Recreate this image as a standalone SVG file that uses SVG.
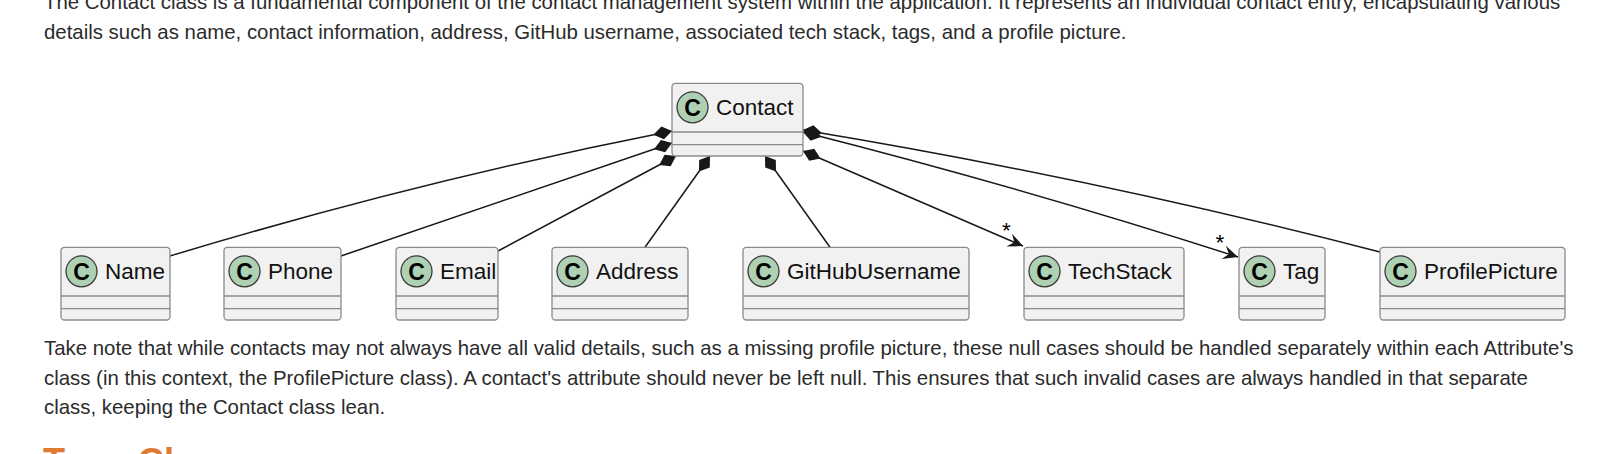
<svg xmlns="http://www.w3.org/2000/svg" width="1602" height="454" viewBox="0 0 1602 454">
<style>
.para{font-family:"Liberation Sans",Arial,sans-serif;font-size:20.4px;fill:#2b2b2b}
.box{fill:#F1F1F1;stroke:#8a8a8a;stroke-width:1.3}
.sep{stroke:#8a8a8a;stroke-width:1.3}
.spot{fill:#ADD1B2;stroke:#3a3a3a;stroke-width:1.3}
.spotc{font-family:"Liberation Sans",Arial,sans-serif;font-weight:bold;font-size:23px;fill:#000;text-anchor:middle}
.lbl{font-family:"Liberation Sans",Arial,sans-serif;font-size:22.5px;fill:#111}
.edge{fill:none;stroke:#181818;stroke-width:1.5}
.mult{font-family:"Liberation Sans",Arial,sans-serif;font-size:22.5px;fill:#000;text-anchor:middle}
.head{font-family:"Liberation Sans",Arial,sans-serif;font-weight:bold;font-size:36px;fill:#E07A33}
</style>
<defs>
<marker id="diamond" markerUnits="userSpaceOnUse" orient="auto" refX="0" refY="0" markerWidth="20" markerHeight="14" overflow="visible">
<path d="M0,0 L9.5,-6.5 L19,0 L9.5,6.5 Z" fill="#181818"/>
</marker>
<marker id="arrow" markerUnits="userSpaceOnUse" orient="auto" refX="0" refY="0" markerWidth="16" markerHeight="14" overflow="visible">
<path d="M0,0 L-15,-7 L-9.5,0 L-15,7 Z" fill="#181818"/>
</marker>
</defs>
<rect x="0" y="0" width="1602" height="454" fill="#ffffff"/>
<text class="para" x="44" y="9">The Contact class is a fundamental component of the contact management system within the application. It represents an individual contact entry, encapsulating various</text>
<text class="para" x="44" y="38.5">details such as name, contact information, address, GitHub username, associated tech stack, tags, and a profile picture.</text>
<g id="connectors">
<path class="edge" marker-start="url(#diamond)" d="M672,131 Q418,181 170,256"/>
<path class="edge" marker-start="url(#diamond)" d="M672,143 L341,256"/>
<path class="edge" marker-start="url(#diamond)" d="M676,156 L498,251"/>
<path class="edge" marker-start="url(#diamond)" d="M710,156 L645,247.3"/>
<path class="edge" marker-start="url(#diamond)" d="M765,156 L830,247.3"/>
<path class="edge" marker-start="url(#diamond)" marker-end="url(#arrow)" d="M803,151 L1023,246"/>
<path class="edge" marker-start="url(#diamond)" marker-end="url(#arrow)" d="M803,132 Q1024,188 1238,257"/>
<path class="edge" marker-start="url(#diamond)" d="M803,130 Q1094,178 1380,252"/>
<text class="mult" x="1006.5" y="238">*</text>
<text class="mult" x="1220" y="250">*</text>
</g>
<g id="Contact">
<rect class="box" x="672" y="83.3" width="131" height="72.7" rx="3.5"/>
<line class="sep" x1="672" y1="132" x2="803" y2="132"/>
<line class="sep" x1="672" y1="144.6" x2="803" y2="144.6"/>
<circle class="spot" cx="692.5" cy="107.3" r="15.5"/>
<text class="spotc" x="692.5" y="115.5">C</text>
<text class="lbl" x="716" y="114.8">Contact</text>
</g>
<g id="Name">
<rect class="box" x="61" y="247.3" width="109" height="72.7" rx="3.5"/>
<line class="sep" x1="61" y1="296" x2="170" y2="296"/>
<line class="sep" x1="61" y1="308.6" x2="170" y2="308.6"/>
<circle class="spot" cx="81.5" cy="271.3" r="15.5"/>
<text class="spotc" x="81.5" y="279.5">C</text>
<text class="lbl" x="105" y="278.8">Name</text>
</g>
<g id="Phone">
<rect class="box" x="224" y="247.3" width="117" height="72.7" rx="3.5"/>
<line class="sep" x1="224" y1="296" x2="341" y2="296"/>
<line class="sep" x1="224" y1="308.6" x2="341" y2="308.6"/>
<circle class="spot" cx="244.5" cy="271.3" r="15.5"/>
<text class="spotc" x="244.5" y="279.5">C</text>
<text class="lbl" x="268" y="278.8">Phone</text>
</g>
<g id="Email">
<rect class="box" x="396" y="247.3" width="102" height="72.7" rx="3.5"/>
<line class="sep" x1="396" y1="296" x2="498" y2="296"/>
<line class="sep" x1="396" y1="308.6" x2="498" y2="308.6"/>
<circle class="spot" cx="416.5" cy="271.3" r="15.5"/>
<text class="spotc" x="416.5" y="279.5">C</text>
<text class="lbl" x="440" y="278.8">Email</text>
</g>
<g id="Address">
<rect class="box" x="552" y="247.3" width="136" height="72.7" rx="3.5"/>
<line class="sep" x1="552" y1="296" x2="688" y2="296"/>
<line class="sep" x1="552" y1="308.6" x2="688" y2="308.6"/>
<circle class="spot" cx="572.5" cy="271.3" r="15.5"/>
<text class="spotc" x="572.5" y="279.5">C</text>
<text class="lbl" x="596" y="278.8">Address</text>
</g>
<g id="GitHubUsername">
<rect class="box" x="743" y="247.3" width="226" height="72.7" rx="3.5"/>
<line class="sep" x1="743" y1="296" x2="969" y2="296"/>
<line class="sep" x1="743" y1="308.6" x2="969" y2="308.6"/>
<circle class="spot" cx="763.5" cy="271.3" r="15.5"/>
<text class="spotc" x="763.5" y="279.5">C</text>
<text class="lbl" x="787" y="278.8">GitHubUsername</text>
</g>
<g id="TechStack">
<rect class="box" x="1024" y="247.3" width="160" height="72.7" rx="3.5"/>
<line class="sep" x1="1024" y1="296" x2="1184" y2="296"/>
<line class="sep" x1="1024" y1="308.6" x2="1184" y2="308.6"/>
<circle class="spot" cx="1044.5" cy="271.3" r="15.5"/>
<text class="spotc" x="1044.5" y="279.5">C</text>
<text class="lbl" x="1068" y="278.8">TechStack</text>
</g>
<g id="Tag">
<rect class="box" x="1239" y="247.3" width="86" height="72.7" rx="3.5"/>
<line class="sep" x1="1239" y1="296" x2="1325" y2="296"/>
<line class="sep" x1="1239" y1="308.6" x2="1325" y2="308.6"/>
<circle class="spot" cx="1259.5" cy="271.3" r="15.5"/>
<text class="spotc" x="1259.5" y="279.5">C</text>
<text class="lbl" x="1283" y="278.8">Tag</text>
</g>
<g id="ProfilePicture">
<rect class="box" x="1380" y="247.3" width="185" height="72.7" rx="3.5"/>
<line class="sep" x1="1380" y1="296" x2="1565" y2="296"/>
<line class="sep" x1="1380" y1="308.6" x2="1565" y2="308.6"/>
<circle class="spot" cx="1400.5" cy="271.3" r="15.5"/>
<text class="spotc" x="1400.5" y="279.5">C</text>
<text class="lbl" x="1424" y="278.8">ProfilePicture</text>
</g>
<text class="para" x="44" y="355">Take note that while contacts may not always have all valid details, such as a missing profile picture, these null cases should be handled separately within each Attribute's</text>
<text class="para" x="44" y="384.5">class (in this context, the ProfilePicture class). A contact's attribute should never be left null. This ensures that such invalid cases are always handled in that separate</text>
<text class="para" x="44" y="414">class, keeping the Contact class lean.</text>
<text class="head" x="43" y="474">Tag <tspan x="138">Class</tspan></text>
</svg>
